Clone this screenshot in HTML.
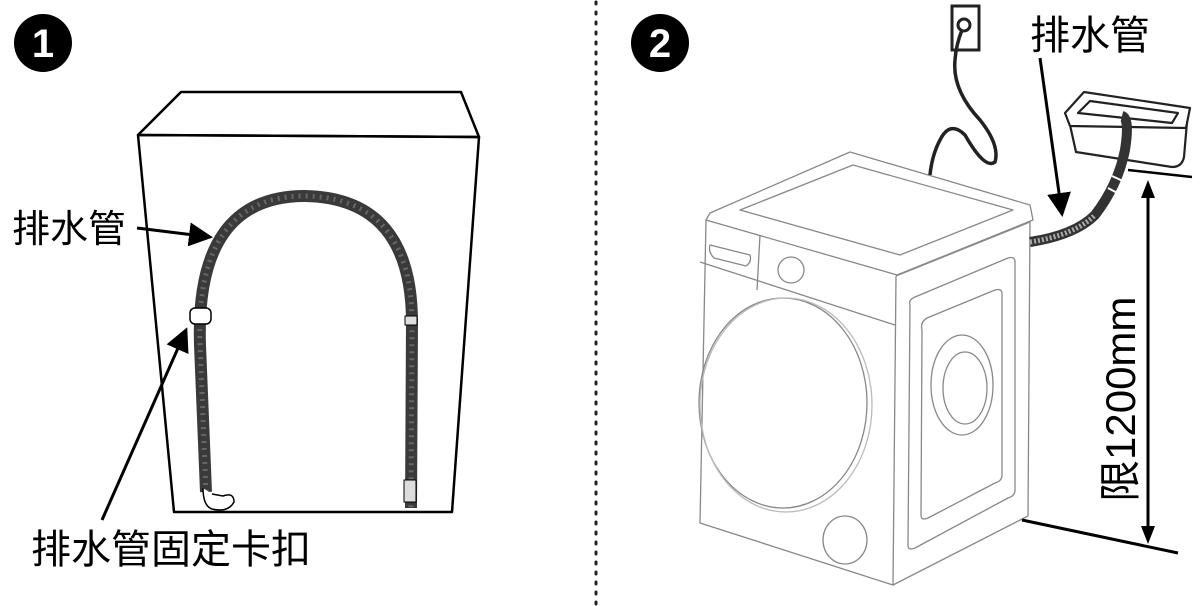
<!DOCTYPE html>
<html><head><meta charset="utf-8"><style>
html,body{margin:0;padding:0;background:#fff;}
svg{display:block;}
text{font-family:"Liberation Sans","Noto Sans CJK SC",sans-serif;}
</style></head><body>
<svg width="1200" height="606" viewBox="0 0 1200 606" xmlns="http://www.w3.org/2000/svg">
<defs>
<marker id="ah" markerWidth="8" markerHeight="8" refX="7" refY="4" orient="auto" markerUnits="strokeWidth">
<path d="M0,0 L8,4 L0,8 z" fill="#000"/></marker>
</defs>
<line x1="596" y1="2" x2="596" y2="606" stroke="#222" stroke-width="3" stroke-dasharray="2,8" stroke-linecap="round"/>
<circle cx="43" cy="43" r="29" fill="#000"/>
<text x="43" y="57" font-size="40" font-weight="bold" fill="#fff" text-anchor="middle">1</text>
<circle cx="660" cy="43" r="29" fill="#000"/>
<text x="660" y="57" font-size="40" font-weight="bold" fill="#fff" text-anchor="middle">2</text>

<g fill="none" stroke="#000" stroke-width="2.5" stroke-linejoin="round">
<polygon points="181,92 461,92 479,137 138,135"/>
<polygon points="138,135 479,137 452,512 174,512"/>
</g>
<path d="M206,492 L200,345 Q195,196 305,196 Q412,198 412,323 L411,508" fill="none" stroke="#3a3a3a" stroke-width="12"/>
<path d="M206,492 L200,345 Q195,196 305,196 Q412,198 412,323 L411,508" fill="none" stroke="#666" stroke-width="5" stroke-dasharray="2,5"/>
<rect x="190" y="308" width="21" height="16" rx="5" fill="#fff" stroke="#000" stroke-width="1.5"/>
<path d="M203,488 Q203,506 212,509 Q228,513 234,502 Q234,492 223,496 L212,494" fill="#fff" stroke="#000" stroke-width="1.5"/>
<rect x="405" y="316" width="12" height="9" fill="#ddd" stroke="#000"/>
<rect x="404" y="480" width="12" height="22" fill="#ddd" stroke="#000"/>
<line x1="137" y1="228" x2="210" y2="237" stroke="#000" stroke-width="3" marker-end="url(#ah)"/>
<line x1="102" y1="520" x2="186" y2="330" stroke="#000" stroke-width="3" marker-end="url(#ah)"/>
<text x="12" y="242" font-size="38">排水管</text>
<text x="31" y="563" font-size="40">排水管固定卡扣</text>

<g fill="none" stroke="#888" stroke-width="1.3" stroke-linejoin="round">
<polygon points="710,213 850,152 1030,205 1033,220 897,275 706,220"/>
<polygon points="740,210 853,165 1013,210 900,255"/>
<path d="M706,220 L700,523 L893,585 L896,276"/>
<path d="M896,276 L1030,222 L1028,516 L893,585"/>
<path d="M700,262 L895,325"/>
<path d="M760,235 L757,290"/>
<path d="M710,245 L750,255 Q752,262 746,266 L714,258 Q708,252 710,245z"/>
<circle cx="791" cy="270" r="13"/>
<ellipse cx="783" cy="403" rx="84" ry="105"/>
<ellipse cx="786" cy="405" rx="86" ry="107" stroke="#bbb"/>
<ellipse cx="845" cy="540" rx="22" ry="24"/>
<path d="M910,305 Q908,300 915,297 L1008,258 Q1015,256 1015,262 L1015,490 Q1015,496 1008,498 L915,548 Q908,551 908,545 Z"/>
<path d="M922,330 Q920,322 927,318 L995,290 Q1002,288 1002,294 L1002,475 Q1002,481 995,483 L928,518 Q921,521 921,515 Z"/>
<ellipse cx="962" cy="385" rx="31" ry="50"/>
<ellipse cx="965" cy="388" rx="22" ry="36"/>
</g>
<rect x="952" y="6" width="27" height="44" fill="#fff" stroke="#222" stroke-width="3"/>
<circle cx="964" cy="25" r="6" fill="none" stroke="#222" stroke-width="3"/>
<path d="M962,30 Q956,45 955,60 Q952,90 980,120 Q1000,145 995,162 Q985,170 965,135 Q950,120 940,140 Q932,155 930,175" fill="none" stroke="#222" stroke-width="3.5"/>
<g fill="#fff" stroke="#222" stroke-width="2.2" stroke-linejoin="round">
<path d="M1070,125 L1076,152 L1172,167 Q1182,167 1184,157 L1187,122 Z"/>
<polygon points="1065,113 1084,92 1190,108 1186,128 1070,126"/>
<polygon points="1078,113 1090,101 1178,113 1172,123"/>
</g>
<path d="M1030,242 Q1075,235 1095,215 Q1118,185 1125,150 Q1130,118 1122,116" fill="none" stroke="#333" stroke-width="10"/>
<path d="M1030,242 Q1075,235 1095,215" fill="none" stroke="#aaa" stroke-width="5" stroke-dasharray="2,2"/>
<path d="M1108,188 L1121,195 M1112,176 L1125,182" stroke="#fff" stroke-width="2"/>
<text x="1030" y="49" font-size="40">排水管</text>
<line x1="1040" y1="58" x2="1062" y2="214" stroke="#000" stroke-width="3" marker-end="url(#ah)"/>
<line x1="1128" y1="170" x2="1192" y2="177" stroke="#000" stroke-width="2.5"/>
<line x1="1022" y1="520" x2="1178" y2="553" stroke="#000" stroke-width="3"/>
<line x1="1148" y1="190" x2="1148" y2="535" stroke="#000" stroke-width="3"/>
<path d="M1148,180 L1141,198 L1155,198 Z M1148,544 L1141,526 L1155,526 Z" fill="#000"/>
<text transform="translate(1135,502) rotate(-90)" font-size="42">限1200mm</text>
</svg>
</body></html>
